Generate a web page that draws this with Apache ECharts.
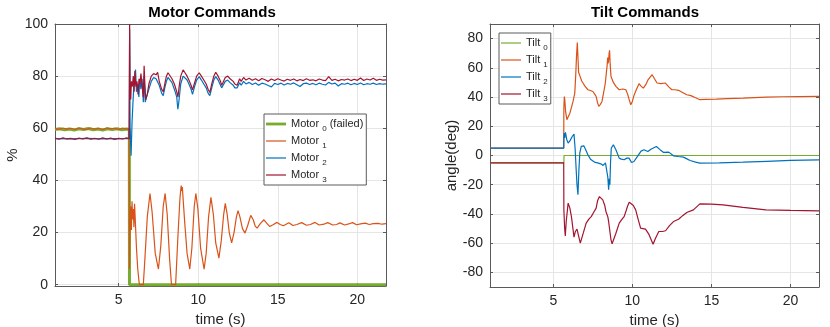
<!DOCTYPE html>
<html>
<head>
<meta charset="utf-8">
<script src="https://cdn.jsdelivr.net/npm/echarts@6/dist/echarts.min.js"></script>
<style>
  html, body { margin: 0; padding: 0; background: #fff; }
  #chart { width: 830px; height: 327px; }
</style>
</head>
<body>
<div id="chart"></div>
<script>
// ---- data: [time (s), value] ----
const motor0 = [[1,59.5],[1.3,59.8],[1.6,59.4],[1.9,59.7],[2.2,59.3],[2.5,59.8],[2.8,59.5],[3.1,59.9],[3.4,59.4],[3.7,59.7],[4.0,59.3],[4.3,59.8],[4.6,59.5],[4.9,59.8],[5.2,59.4],[5.5,59.7],[5.67,59.5],[5.68,0],[21.8,0]]

const motor1 = [[1,59.9],[1.25,59.6],[1.5,60.1],[1.75,59.7],[2.0,60.0],[2.25,59.6],[2.5,60.1],[2.75,59.8],[3.0,59.6],[3.25,60.1],[3.5,59.7],[3.75,60.0],[4.0,59.6],[4.25,60.1],[4.5,59.8],[4.75,60.0],[5.0,59.6],[5.25,60.1],[5.5,59.7],[5.66,59.9],
  [5.68,6],[5.72,22],[5.76,30],[5.8,21],[5.84,32],[5.88,25],[5.92,29],[5.96,22],[6.0,31],[6.05,24],[6.12,14],[6.2,6],[6.3,0],[6.55,0],[6.65,10],[6.8,26],[6.97,35],[7.1,28],[7.3,12],[7.5,6],[7.65,15],[7.8,30],[7.92,35],[8.05,27],[8.2,10],[8.32,0],[8.58,0],[8.72,18],[8.85,33],[8.93,38],[8.97,36],[9.0,37.5],[9.15,24],[9.3,12],[9.47,6],[9.6,14],[9.75,30],[9.85,35],[9.98,29],[10.15,14],[10.37,6],[10.5,12],[10.65,26],[10.8,33.5],[10.95,27],[11.1,16],[11.3,10.2],[11.45,17],[11.6,27],[11.7,31.2],[11.82,27],[11.95,20],[12.1,16],[12.25,20],[12.4,26],[12.5,28.4],[12.62,26],[12.78,21.5],[12.94,19.8],[13.1,22.5],[13.3,26.6],[13.45,25],[13.58,22.5],[13.7,21.7],[13.9,23.4],[14.13,24.9],[14.3,23.6],[14.5,22.3],[14.7,23],[14.95,23.9],[15.15,23.1],[15.35,22.6],[15.7,23.8],[15.95,22.7],[16.2,23.1],[16.5,23.8],[16.8,22.8],[17.05,23.1],[17.34,23.9],[17.6,22.9],[17.9,23.2],[18.14,23.8],[18.45,22.9],[18.7,23.1],[18.9,23.7],[19.2,22.9],[19.45,23.3],[19.7,23.8],[19.95,23],[20.2,23.3],[20.5,23.6],[20.75,23.1],[21.0,23.4],[21.3,23.5],[21.55,23.2],[21.8,23.4]]

const motor2 = [[1,56.0],[2,55.9],[3,56.1],[4,55.9],[5,56.0],[5.66,56.0],
  [5.69,98],[5.72,60],[5.78,49.5],[5.84,62],[5.9,70],[5.96,77],[6.02,80],[6.06,82.5],[6.12,74],[6.2,77],[6.27,72],[6.33,79],[6.4,75],[6.47,79],[6.55,70],[6.6,80],[6.67,70],[6.75,72],[6.9,75],[7.05,78],[7.2,79.5],[7.35,79],[7.45,79.5],[7.55,76.5],[7.7,73.5],[7.8,72.5],[7.9,75.5],[8.0,78],[8.1,79.5],[8.2,79.5],[8.35,77.5],[8.5,75],[8.65,72],[8.72,67.3],[8.78,70],[8.9,77],[9.05,80],[9.15,79.5],[9.3,78.5],[9.45,76.5],[9.55,75],[9.64,73],[9.75,75.5],[9.9,78.5],[10.06,79.8],[10.2,78.5],[10.35,77],[10.5,75.5],[10.62,73.5],[10.73,72.5],[10.85,75.5],[10.98,78.5],[11.1,79.8],[11.25,78.5],[11.4,76.5],[11.47,75.5],[11.55,76],[11.7,78],[11.85,78.5],[12.0,77.5],[12.2,76.5],[12.3,75.5],[12.45,75.5],[12.6,77.5],[12.7,76.5],[12.85,78],[13.0,77],
  [13.2,77.6],[13.4,76.8],[13.6,77.4],[13.8,76.5],[14.0,77.3],[14.2,77.0],[14.4,76.4],[14.6,75.9],[14.8,77.2],[15.0,76.8],[15.2,77.3],[15.4,76.6],[15.6,77.2],[15.8,76.9],[16.0,77.4],[16.2,76.7],[16.4,76.0],[16.6,77.1],[16.8,77.3],[17.0,76.8],[17.2,77.2],[17.4,76.7],[17.6,77.3],[17.8,76.9],[18.0,76.6],[18.2,77.6],[18.4,77.0],[18.6,77.3],[18.8,76.2],[19.0,77.1],[19.2,76.9],[19.4,77.3],[19.6,76.7],[19.8,77.2],[20.0,76.8],[20.2,77.4],[20.4,76.7],[20.6,77.1],[20.8,76.9],[21.0,77.3],[21.2,76.8],[21.4,77.1],[21.6,76.9],[21.8,77.0]]

const motor3 = [[1,56.2],[1.25,55.8],[1.5,56.3],[1.75,55.9],[2.0,56.1],[2.25,55.7],[2.5,56.2],[2.75,55.9],[3.0,56.3],[3.25,55.8],[3.5,56.1],[3.75,55.8],[4.0,56.3],[4.25,55.9],[4.5,56.2],[4.75,55.7],[5.0,56.1],[5.25,55.9],[5.5,56.3],[5.66,56.0],
  [5.69,100],[5.72,75],[5.76,71],[5.8,78],[5.86,76],[5.92,80],[5.97,74],[6.02,82],[6.08,76],[6.15,78],[6.22,73],[6.28,79],[6.34,77],[6.4,81],[6.48,76],[6.55,72],[6.6,84],[6.64,78],[6.7,71],[6.8,73],[6.9,77],[7.05,80],[7.2,81],[7.35,80.5],[7.45,81.5],[7.55,78],[7.7,75],[7.8,74],[7.9,77],[8.0,80],[8.1,81.3],[8.2,81],[8.35,79],[8.5,77],[8.65,74],[8.73,72],[8.8,76],[8.9,80],[9.05,82.4],[9.15,81.5],[9.3,80],[9.45,78],[9.55,76.5],[9.64,74.7],[9.75,77],[9.9,80],[10.06,81.3],[10.2,80],[10.35,78.5],[10.5,77],[10.62,75],[10.73,73.7],[10.85,77],[10.98,80],[11.1,81.5],[11.25,80],[11.4,78],[11.47,76.5],[11.55,77.5],[11.7,79.5],[11.85,80],[12.0,79],[12.2,78],[12.3,77],[12.45,76.5],[12.6,79],[12.7,78],[12.85,79.5],[13.0,78.5],
  [13.2,79.2],[13.4,78.4],[13.6,79.0],[13.8,78.2],[14.0,79.1],[14.2,78.6],[14.4,78.0],[14.6,78.9],[14.8,78.3],[15.0,79.0],[15.2,78.5],[15.4,78.1],[15.6,78.8],[15.8,78.4],[16.0,78.9],[16.2,78.2],[16.4,78.7],[16.6,78.3],[16.8,79.0],[17.0,78.4],[17.2,78.6],[17.4,78.2],[17.6,78.9],[17.8,78.5],[18.0,78.3],[18.2,79.8],[18.4,78.4],[18.6,78.8],[18.8,78.2],[19.0,78.7],[19.2,78.5],[19.4,78.9],[19.6,78.3],[19.8,78.8],[20.0,78.4],[20.2,79.3],[20.4,78.3],[20.6,78.9],[20.8,78.5],[21.0,79.2],[21.2,78.4],[21.4,78.8],[21.6,78.5],[21.8,78.6]]

const tilt0 = [[1,-5],[5.67,-5],[5.68,0],[21.8,0]]

const tilt1 = [[1,5],[5.66,5],[5.67,33],[5.7,40.4],[5.73,38],[5.78,30],[5.86,24.5],[5.94,24],[6.05,29],[6.15,33],[6.25,37],[6.36,42.7],[6.42,55],[6.47,68],[6.52,77.4],[6.57,65],[6.6,57],[6.63,56.4],[6.7,54],[6.8,51],[6.88,49.6],[7.0,47.5],[7.19,45],[7.35,44.5],[7.5,43.8],[7.62,42],[7.71,40.4],[7.8,36],[7.88,33.6],[7.98,35],[8.08,37],[8.2,44],[8.29,49.6],[8.36,57],[8.4,61],[8.44,67],[8.47,63],[8.5,65],[8.53,70],[8.56,72],[8.6,62],[8.65,54.1],[8.72,53],[8.8,50],[8.96,47.3],[9.17,45],[9.4,45.5],[9.59,45],[9.7,42],[9.8,38.2],[9.9,34.7],[10.0,37],[10.1,41],[10.25,45],[10.42,49.1],[10.55,47.5],[10.69,46.1],[10.85,48.5],[11.0,52],[11.25,55.3],[11.4,52.5],[11.56,49.6],[11.8,49.2],[12.09,49.6],[12.3,47],[12.5,45],[12.7,45],[12.92,44.6],[13.2,43],[13.44,41.6],[13.7,41],[14.0,39.5],[14.27,38.2],[14.6,38.4],[15.31,38.6],[16,38.9],[17,39.3],[18.44,40],[19.5,40.2],[20.5,40.3],[21.8,40.4]]

const tilt2 = [[1,5],[5.66,5],[5.68,15.3],[5.72,12],[5.77,15.8],[5.85,11],[5.94,8.5],[6.05,10],[6.2,13],[6.31,14.6],[6.38,5],[6.45,-10],[6.5,-20],[6.56,-26.9],[6.62,-10],[6.68,2],[6.77,6.2],[6.85,7],[6.93,6.6],[7.05,4],[7.19,0.5],[7.35,-2.5],[7.6,-4.5],[7.8,-5],[8.0,-5.7],[8.15,-6.8],[8.23,-6.4],[8.3,-5],[8.38,-6],[8.45,-15],[8.5,-23.5],[8.54,-16],[8.58,-20],[8.62,-5],[8.67,5.1],[8.8,7.3],[8.96,3.9],[9.17,-1.8],[9.3,-2.5],[9.48,-2.9],[9.65,-1.8],[9.79,-1.8],[9.95,-4.8],[10.1,-4.1],[10.3,-1],[10.55,3],[10.73,3.9],[10.98,2.7],[11.2,4.5],[11.52,6.2],[11.75,4],[11.98,2.1],[12.3,2.3],[12.6,-0.2],[12.9,-0.7],[13.23,-1.1],[13.45,-2.3],[13.65,-3.4],[14.0,-4.5],[14.27,-5.2],[15.5,-5],[17,-4.6],[18.5,-4],[20,-3.4],[21.8,-3]]

const tilt3 = [[1,-5],[5.66,-5],[5.67,-37],[5.72,-50],[5.76,-55],[5.82,-45],[5.94,-32.6],[6.05,-36],[6.15,-42],[6.31,-55.9],[6.4,-52],[6.5,-50.4],[6.6,-55],[6.71,-60],[6.78,-59.6],[6.9,-53],[7.08,-46.3],[7.25,-43.5],[7.4,-41.8],[7.55,-39],[7.71,-36],[7.8,-31],[7.92,-28.1],[8.02,-28.5],[8.13,-30.4],[8.25,-34],[8.33,-38.3],[8.45,-42],[8.5,-45.2],[8.58,-52],[8.65,-57.7],[8.72,-60.5],[8.8,-58],[8.96,-53.2],[9.17,-46.3],[9.35,-43.5],[9.48,-41.8],[9.6,-38],[9.69,-34.9],[9.8,-32],[9.9,-31.5],[10.05,-34],[10.21,-37.2],[10.35,-43],[10.52,-49.7],[10.83,-50.4],[11.05,-54],[11.31,-60.7],[11.45,-57],[11.67,-52],[11.9,-52],[12.1,-51.5],[12.35,-48],[12.6,-45.2],[12.92,-43.6],[13.2,-41],[13.44,-39],[13.86,-37.2],[14.27,-33.1],[15,-33.3],[15.73,-33.8],[17,-35.5],[18.44,-37.2],[20,-37.6],[21.8,-37.9]]

const xTicks = [5, 10, 15, 20]
const motorTicks = [0, 20, 40, 60, 80, 100]
const tiltTicks = [-80, -60, -40, -20, 0, 20, 40, 60, 80]

const colors = ['#77AC30', '#D95319', '#0072BD', '#A2142F']
const font = 'Liberation Sans'
const txt = '#262626'
const frame = '#5a5a5a'

// legend line icons (the degenerate ends keep the box 20x8 so the bar keeps its thickness)
const thinIcon = 'path://M0,0L0,0M0,3.4H20V4.6H0ZM0,8L0,8'
const thickIcon = 'path://M0,0L0,0M0,2.6H20V5.4H0ZM0,8L0,8'

const chart = echarts.init(document.getElementById('chart'))

function xAxis(grid, top, name) {
    return {
        type: 'value', gridIndex: grid, position: top ? 'top' : 'bottom',
        min: 1, max: 21.8,
        name: top ? '' : name, nameLocation: 'middle', nameGap: 25,
        nameTextStyle: { fontFamily: font, fontSize: 15, color: txt },
        axisLine: { onZero: false, lineStyle: { color: frame, width: 1 } },
        axisTick: { show: true, inside: true, length: 3, customValues: xTicks, lineStyle: { color: frame } },
        axisLabel: { show: !top, customValues: xTicks, fontFamily: font, fontSize: 14, color: txt, margin: 7 },
        splitLine: { show: !top, lineStyle: { color: '#e5e5e5', width: 1 } }
    }
}

function yAxis(grid, right, min, max, split, ticks, name, gap) {
    return {
        type: 'value', gridIndex: grid, position: right ? 'right' : 'left',
        min: min, max: max, splitNumber: split,
        name: right ? '' : name, nameLocation: 'middle', nameGap: gap,
        nameTextStyle: { fontFamily: font, fontSize: 15, color: txt },
        axisLine: { show: true, onZero: false, lineStyle: { color: frame, width: 1 } },
        axisTick: { show: true, inside: true, length: 3, customValues: ticks, lineStyle: { color: frame } },
        axisLabel: { show: !right, customValues: ticks, fontFamily: font, fontSize: 14, color: txt, margin: 7 },
        splitLine: { show: !right, lineStyle: { color: '#e5e5e5', width: 1 } }
    }
}

function line(name, data, i, xi, yi, width) {
    return {
        name: name, type: 'line', data: data, xAxisIndex: xi, yAxisIndex: yi,
        showSymbol: false, symbol: 'none', animation: false,
        color: colors[i],
        lineStyle: { color: colors[i], width: width }
    }
}

function legendFmt(name) {
    const p = name.split('|')
    return '{a|' + p[0] + ' }{s|' + p[1] + '}' + (p[2] ? '{a| ' + p[2] + '}' : '')
}

// subscript: same row height, pushed to the bottom of the row
const rich = {
    a: { fontFamily: font, fontSize: 11, color: txt, lineHeight: 18, verticalAlign: 'middle' },
    s: { fontFamily: font, fontSize: 8, color: txt, lineHeight: 18, padding: [10, 0, 0, 0], verticalAlign: 'bottom' }
}

function legend(names, left, top, thickFirst) {
    return {
        data: names.map((n, i) => ({ name: n, icon: (thickFirst && i === 0) ? thickIcon : thinIcon })),
        orient: 'vertical', left: left, top: top,
        itemWidth: 20, itemHeight: 8, itemGap: -1,
        padding: [1, 3, 1, 2],
        borderColor: frame, borderWidth: 1, borderRadius: 0, backgroundColor: '#fff',
        selectedMode: false,
        itemStyle: { borderWidth: 0 },
        formatter: legendFmt,
        textStyle: { lineHeight: 18, rich: rich }
    }
}

const motorNames = ['Motor|0|(failed)', 'Motor|1', 'Motor|2', 'Motor|3']
const tiltNames = ['Tilt|0', 'Tilt|1', 'Tilt|2', 'Tilt|3']

const option = {
    animation: false,
    backgroundColor: '#fff',
    grid: [
        { left: 55, top: 24, width: 331, height: 262, containLabel: false, outerBoundsMode: 'none' },
        { left: 490, top: 24, width: 329, height: 263, containLabel: false, outerBoundsMode: 'none' }
    ],
    graphic: [
        { type: 'text', x: 212, y: 5, style: { text: 'Motor Commands', font: 'bold 15px "Liberation Sans"', fill: '#000', textAlign: 'center' } },
        { type: 'text', x: 645, y: 5, style: { text: 'Tilt Commands', font: 'bold 15px "Liberation Sans"', fill: '#000', textAlign: 'center' } }
    ],
    xAxis: [
        xAxis(0, false, 'time (s)'),
        xAxis(0, true),
        xAxis(1, false, 'time (s)'),
        xAxis(1, true)
    ],
    yAxis: [
        yAxis(0, false, -0.5, 100, 5, motorTicks, '%', 34),
        yAxis(0, true, -0.5, 100, 5, motorTicks),
        yAxis(1, false, -90, 90, 9, tiltTicks, 'angle(deg)', 30),
        yAxis(1, true, -90, 90, 9, tiltTicks)
    ],
    legend: [
        legend(motorNames, 264, 114, true),
        legend(tiltNames, 499, 33, false)
    ],
    series: [
        line(motorNames[0], motor0, 0, 0, 0, 3),
        line(motorNames[1], motor1, 1, 0, 0, 1.2),
        line(motorNames[2], motor2, 2, 0, 0, 1.2),
        line(motorNames[3], motor3, 3, 0, 0, 1.2),
        line(tiltNames[0], tilt0, 0, 2, 2, 1.2),
        line(tiltNames[1], tilt1, 1, 2, 2, 1.2),
        line(tiltNames[2], tilt2, 2, 2, 2, 1.2),
        line(tiltNames[3], tilt3, 3, 2, 2, 1.2)
    ]
}
chart.setOption(option)
</script>
</body>
</html>
